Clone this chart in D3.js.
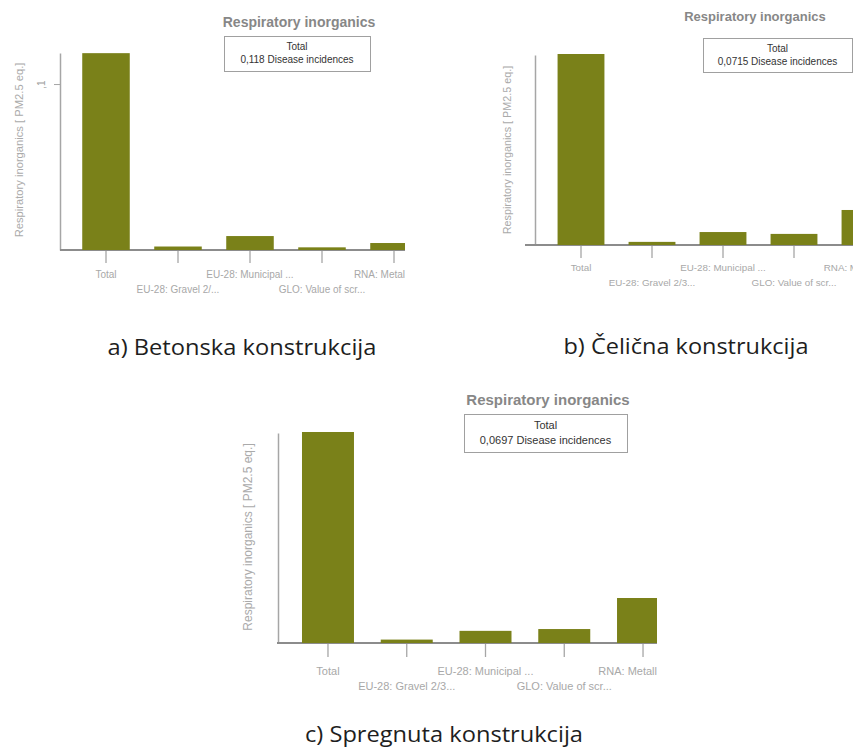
<!DOCTYPE html>
<html><head><meta charset="utf-8">
<script src="https://cdn.jsdelivr.net/npm/d3@7/dist/d3.min.js"></script>
<style>
html,body{margin:0;padding:0;background:#fff;}
svg{display:block;}
</style></head>
<body>
<svg id="chart" width="853" height="749"></svg>
<script>
// ---------- DATA ----------
const chartTitle = "Respiratory inorganics";
const yAxisLabel = "Respiratory inorganics [ PM2.5 eq.]";
const categoriesA = ["Total", "EU-28: Gravel 2/...", "EU-28: Municipal ...", "GLO: Value of scr...", "RNA: Metal"];
const categoriesB = ["Total", "EU-28: Gravel 2/3...", "EU-28: Municipal ...", "GLO: Value of scr...", "RNA: Metall"];
const categoriesC = ["Total", "EU-28: Gravel 2/3...", "EU-28: Municipal ...", "GLO: Value of scr...", "RNA: Metall"];
const valuesA = [0.118, 0.0015, 0.0078, 0.001, 0.0036];
const valuesB = [0.0715, 0.0008, 0.0045, 0.0038, 0.0128];
const valuesC = [0.0697, 0.0008, 0.0037, 0.0043, 0.0146];
const totalLabelA = "0,118 Disease incidences";
const totalLabelB = "0,0715 Disease incidences";
const totalLabelC = "0,0697 Disease incidences";
const yTicksA = [0.1];
const yTickLabelsA = [",1"];
const captionA = "a) Betonska konstrukcija";
const captionB = "b) Čelična konstrukcija";
const captionC = "c) Spregnuta konstrukcija";

// ---------- LAYOUT ----------
const barColor = "#7a8119";
const panels = [
  { cats: categoriesA, vals: valuesA, total: totalLabelA, yTicks: yTicksA, yTickLabels: yTickLabelsA,
    yMax: 0.1187, yRange: [250, 53], axisX: 60, baseLeft: 60, xRange: [70, 430], clipRight: 405,
    title: { x: 299, y: 27, size: 14 }, box: { x: 224, y: 36, w: 146, h: 35, fs: 10 },
    ylab: { x: 19, y: 150, size: 11.2 }, xl: { row1: 278, row2: 293, fs: 10, tick: 13 } },
  { cats: categoriesB, vals: valuesB, total: totalLabelB, yTicks: [], yTickLabels: [],
    yMax: 0.0715, yRange: [245, 55], axisX: 535, baseLeft: 525, xRange: [545.5, 900.5], clipRight: 876,
    title: { x: 755, y: 21, size: 13 }, box: { x: 703, y: 38, w: 149, h: 34, fs: 10 },
    ylab: { x: 507, y: 150, size: 10.8 }, xl: { row1: 271, row2: 286, fs: 9.8, tick: 13 } },
  { cats: categoriesC, vals: valuesC, total: totalLabelC, yTicks: [], yTickLabels: [],
    yMax: 0.0697, yRange: [643, 433], axisX: 278, baseLeft: 277, xRange: [288.6, 682.4], clipRight: 657,
    title: { x: 548, y: 405, size: 15 }, box: { x: 464, y: 414, w: 163, h: 38, fs: 11 },
    ylab: { x: 248, y: 537, size: 12 }, xl: { row1: 675, row2: 690, fs: 11, tick: 14 } }
];
const captions = [
  { text: captionA, x: 242, y: 355, w: 269 },
  { text: captionB, x: 686, y: 354, w: 245 },
  { text: captionC, x: 444, y: 742, w: 278 }
];

const svg = d3.select("#chart");
const uiFont = "'Liberation Sans', Arial, sans-serif";

panels.forEach((p, pi) => {
  const g = svg.append("g");
  const x = d3.scaleBand().domain(p.cats).range(p.xRange).paddingInner(0.34).paddingOuter(0.17);
  const y = d3.scaleLinear().domain([0, p.yMax]).range(p.yRange);
  const base = y(0);

  // y axis
  const yAxis = d3.axisLeft(y).tickValues(p.yTicks).tickSize(6).tickSizeOuter(0)
    .tickFormat((d, i) => p.yTickLabels[i]);
  const ya = g.append("g").attr("transform", `translate(${p.axisX},0)`).call(yAxis);
  ya.select(".domain").attr("stroke", "#a6a6a6").attr("stroke-width", 1.5);
  ya.selectAll(".tick line").attr("stroke", "#a6a6a6");
  ya.selectAll(".tick text").attr("fill", "#a0a0a0").attr("font-family", uiFont).attr("font-size", 10)
    .attr("x", null).attr("dy", null)
    .attr("text-anchor", "middle")
    .attr("transform", "translate(-15,0) rotate(-90)");

  // x axis ticks
  const xAxis = d3.axisBottom(x).tickSize(p.xl.tick).tickSizeOuter(0).tickFormat("");
  const xa = g.append("g").attr("transform", `translate(0,${base})`).call(xAxis);
  xa.select(".domain").remove();
  xa.selectAll(".tick line").attr("stroke", "#a6a6a6").attr("stroke-width", 1.3);
  // baseline
  g.append("line").attr("x1", p.baseLeft).attr("x2", p.clipRight).attr("y1", base).attr("y2", base)
    .attr("stroke", "#8c8c8c").attr("stroke-width", 2);

  // clip for bars
  const clipId = "clip" + pi;
  svg.append("clipPath").attr("id", clipId).append("rect")
    .attr("x", p.axisX).attr("y", 0).attr("width", p.clipRight - p.axisX).attr("height", base);

  // bars (drawn above the baseline)
  g.append("g").attr("clip-path", `url(#${clipId})`)
    .selectAll("rect").data(p.vals).join("rect")
    .attr("x", (d, i) => x(p.cats[i]))
    .attr("width", x.bandwidth())
    .attr("y", d => y(d) - 1)
    .attr("height", d => base - y(d) + 1)
    .attr("fill", barColor);

  // x labels (staggered)
  const lab = g.append("g").selectAll("text").data(p.cats).join("text")
    .attr("y", (d, i) => i % 2 === 0 ? p.xl.row1 : p.xl.row2)
    .attr("font-family", uiFont).attr("font-size", p.xl.fs).attr("fill", "#a8a8a8")
    .text(d => d);
  lab.each(function (d) {
    const c = x(d) + x.bandwidth() / 2;
    const w = this.getComputedTextLength();
    let left = c - w / 2;
    if (left + w > p.clipRight) left = p.clipRight - w;
    d3.select(this).attr("x", left);
  });

  // y label
  g.append("text").attr("transform", `translate(${p.ylab.x},${p.ylab.y}) rotate(-90)`)
    .attr("text-anchor", "middle").attr("dy", "0.35em")
    .attr("font-family", uiFont).attr("font-size", p.ylab.size).attr("fill", "#aaaaaa")
    .text(yAxisLabel);

  // title
  g.append("text").attr("x", p.title.x).attr("y", p.title.y).attr("text-anchor", "middle")
    .attr("font-family", uiFont).attr("font-weight", "bold").attr("font-size", p.title.size)
    .attr("fill", "#878787").text(chartTitle);

  // total box
  g.append("rect").attr("x", p.box.x + 0.5).attr("y", p.box.y + 0.5).attr("width", p.box.w).attr("height", p.box.h)
    .attr("fill", "#fff").attr("stroke", "#a0a0a0").attr("stroke-width", 1);
  const cx = p.box.x + p.box.w / 2;
  g.append("text").attr("x", cx).attr("y", p.box.y + p.box.h * 0.40).attr("text-anchor", "middle")
    .attr("font-family", uiFont).attr("font-size", p.box.fs).attr("fill", "#333").text(p.cats[0]);
  g.append("text").attr("x", cx).attr("y", p.box.y + p.box.h * 0.78).attr("text-anchor", "middle")
    .attr("font-family", uiFont).attr("font-size", p.box.fs).attr("fill", "#333").text(p.total);
});

// captions
svg.append("g").selectAll("text").data(captions).join("text")
  .attr("x", d => d.x).attr("y", d => d.y).attr("text-anchor", "middle")
  .attr("font-family", "'Open Sans', 'Noto Sans', sans-serif").attr("font-size", 22)
  .attr("fill", "#1e1e1e")
  .attr("textLength", d => d.w).attr("lengthAdjust", "spacingAndGlyphs")
  .text(d => d.text);
</script>
</body></html>
